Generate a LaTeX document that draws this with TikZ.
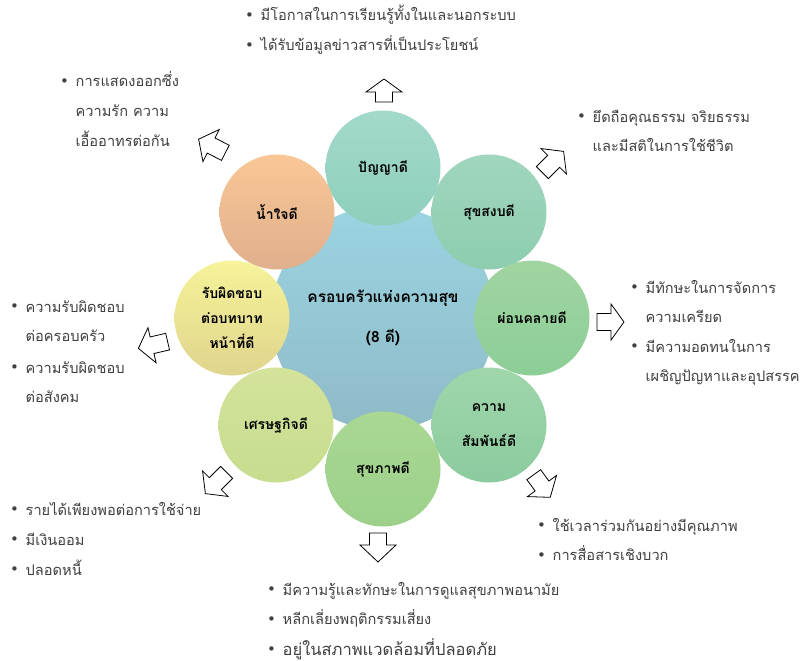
\documentclass[tikz,border=0pt]{standalone}
\usepackage{fontspec}
\newfontfamily\thaifont[Script=Thai]{Loma}
\newfontfamily\dotfont{DejaVu Sans}
\definecolor{notegray}{HTML}{404040}
\definecolor{coreT}{HTML}{9BD4E1}\definecolor{coreB}{HTML}{8FBAC8}
\definecolor{wisT}{HTML}{A2D9CB}\definecolor{wisB}{HTML}{8ECFBC}
\definecolor{peaT}{HTML}{A0D6BE}\definecolor{peaB}{HTML}{8DCDAF}
\definecolor{relT}{HTML}{A0D4A0}\definecolor{relB}{HTML}{8CCE96}
\definecolor{bonT}{HTML}{9FD6AA}\definecolor{bonB}{HTML}{8BCB9F}
\definecolor{heaT}{HTML}{A9D893}\definecolor{heaB}{HTML}{9CD08A}
\definecolor{ecoT}{HTML}{D4E39B}\definecolor{ecoB}{HTML}{C6DC8E}
\definecolor{dutT}{HTML}{F6F39A}\definecolor{dutB}{HTML}{DFD48C}
\definecolor{kinT}{HTML}{F9C796}\definecolor{kinB}{HTML}{E0AF8C}
% bullet mark and hanging indent for the note lists
\newcommand\bul{\makebox[15.5pt][l]{\dotfont\fontsize{15}{15}\selectfont\raisebox{0.3pt}{•}}}
\newcommand\hang{\hspace*{15.5pt}}
\begin{document}
\begin{tikzpicture}[x=1pt,y=-1pt,
  ring/.style={circle, minimum size=115pt, inner sep=0pt, align=center,
    text=black, font=\thaifont\bfseries\fontsize{14}{25}\selectfont},
  note/.style={anchor=base west, inner sep=0pt, align=left, text=notegray,
    font=\thaifont\fontsize{14.6}{29.5}\selectfont},
  arrowline/.style={draw=black, fill=white, line width=0.8pt, line join=miter},
  pics/barrow/.style 2 args={code={
    \draw[arrowline] (-#1/2,-8.5) -- (#1/2-#2,-8.5) -- (#1/2-#2,-18) -- (#1/2,0)
      -- (#1/2-#2,18) -- (#1/2-#2,8.5) -- (-#1/2,8.5) -- cycle;}}]
\useasboundingbox[fill=white] (0,0) rectangle (809,661);

% central circle and the eight surrounding circles
\node[ring, minimum size=224pt, top color=coreT, bottom color=coreB,
  font=\thaifont\bfseries\fontsize{15.5}{40}\selectfont] (core) at (383,318)
  {ครอบครัวแห่งความสุข\\(8 ดี)};
\node[ring, top color=wisT, bottom color=wisB] (wisdom) at (383,168) {ปัญญาดี};
\node[ring, top color=peaT, bottom color=peaB] (peace) at (489,212) {สุขสงบดี};
\node[ring, top color=relT, bottom color=relB] (relax) at (532,318) {ผ่อนคลายดี};
\node[ring, top color=bonT, bottom color=bonB,
  font=\thaifont\bfseries\fontsize{14}{35}\selectfont] (bond) at (489,425) {ความ\\สัมพันธ์ดี};
\node[ring, top color=heaT, bottom color=heaB] (health) at (383,469) {สุขภาพดี};
\node[ring, top color=ecoT, bottom color=ecoB] (economy) at (276,425) {เศรษฐกิจดี};
\node[ring, top color=dutT, bottom color=dutB] (duty) at (232,318) {รับผิดชอบ\\ต่อบทบาท\\หน้าที่ดี};
\node[ring, top color=kinT, bottom color=kinB] (kind) at (277,212) {น้ำใจดี};

% block arrows pointing outwards
\pic[rotate=90] at (384,90.5) {barrow={23}{13}};
\pic at (610.5,322) {barrow={27}{13}};
\pic[rotate=-90] at (378,547.5) {barrow={29}{17}};
\pic[rotate=153] at (212,146) {barrow={30}{14}};
\pic[rotate=45] at (553,162) {barrow={30}{14}};
\pic[rotate=193] at (153,345) {barrow={30}{14}};
\pic[rotate=225] at (216,483) {barrow={30}{14}};
\pic[rotate=-54] at (542,486) {barrow={28}{14}};

% note lists (each node is placed by the baseline of its last line)
\node[note, font=\thaifont\fontsize{14.6}{30}\selectfont] (nwisdom) at (245,51)
  {\bul มีโอกาสในการเรียนรู้ทั้งในและนอกระบบ\\\bul ได้รับข้อมูลข่าวสารที่เป็นประโยชน์};
\node[note] (nkind) at (60,146)
  {\bul การแสดงออกซึ่ง\\\hang ความรัก ความ\\\hang เอื้ออาทรต่อกัน};
\node[note] (npeace) at (577,151.5)
  {\bul ยึดถือคุณธรรม จริยธรรม\\\hang และมีสติในการใช้ชีวิต};
\node[note] (nrelax) at (630,381.5)
  {\bul มีทักษะในการจัดการ\\\hang ความเครียด\\\bul มีความอดทนในการ\\\hang เผชิญปัญหาและอุปสรรค};
\node[note] (nduty) at (10,402.5)
  {\bul ความรับผิดชอบ\\\hang ต่อครอบครัว\\[2pt]\bul ความรับผิดชอบ\\\hang ต่อสังคม};
\node[note, font=\thaifont\fontsize{14.6}{30}\selectfont] (neconomy) at (10,575)
  {\bul รายได้เพียงพอต่อการใช้จ่าย\\\bul มีเงินออม\\\bul ปลอดหนี้};
\node[note] (nbond) at (537,560.5)
  {\bul ใช้เวลาร่วมกันอย่างมีคุณภาพ\\\bul การสื่อสารเชิงบวก};
\node[note] (nhealth) at (267,655)
  {\bul มีความรู้และทักษะในการดูแลสุขภาพอนามัย\\\bul หลีกเลี่ยงพฤติกรรมเสี่ยง\\[1pt]\bul {\fontsize{16.5}{20}\selectfont อยู่ในสภาพแวดล้อมที่ปลอดภัย}};
\end{tikzpicture}
\end{document}
